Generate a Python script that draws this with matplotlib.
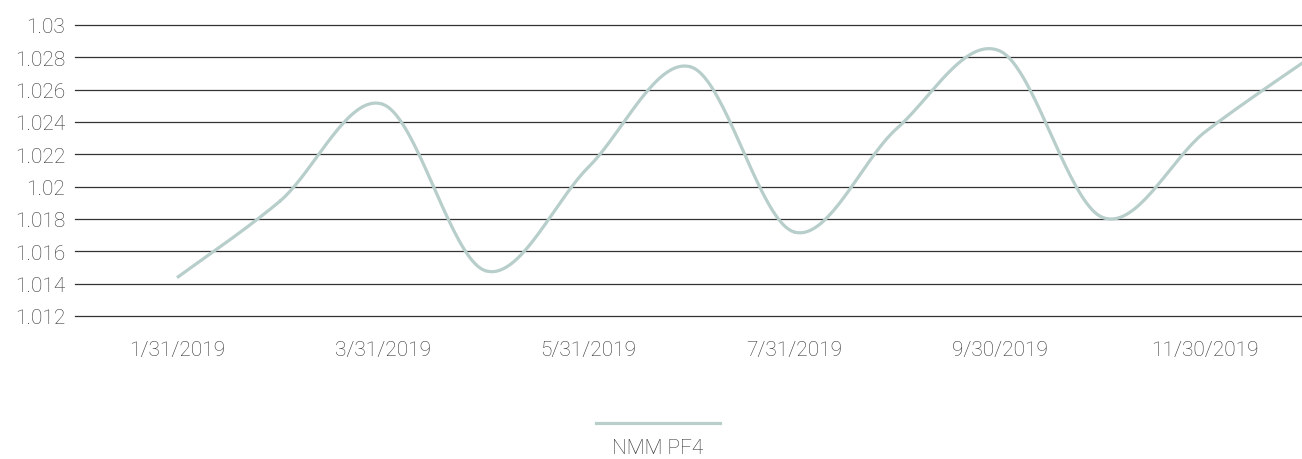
import numpy as np
import matplotlib
matplotlib.use("Agg")
import matplotlib.pyplot as plt
from matplotlib.lines import Line2D

# ---- data ----
months = ["1/31/2019", "2/28/2019", "3/31/2019", "4/30/2019", "5/31/2019", "6/30/2019",
          "7/31/2019", "8/31/2019", "9/30/2019", "10/31/2019", "11/30/2019", "12/31/2019"]
values = [1.01437, 1.0191, 1.0251, 1.0148, 1.0212, 1.0274,
          1.0172, 1.0236, 1.0284, 1.0181, 1.0234, 1.0279]
series_name = "NMM PF4"
yticks = [1.012, 1.014, 1.016, 1.018, 1.02, 1.022, 1.024, 1.026, 1.028, 1.03]
ytick_labels = ["1.012", "1.014", "1.016", "1.018", "1.02", "1.022", "1.024", "1.026", "1.028", "1.03"]

line_color = "#b7ceca"
text_color = "#333333"
grid_color = "#333333"

plt.rcParams['font.family'] = ['Roboto', 'DejaVu Sans']


def catmull_rom(x, y, n=40):
    x = np.asarray(x, float)
    y = np.asarray(y, float)
    px = np.concatenate([[x[0]], x, [x[-1]]])
    py = np.concatenate([[y[0]], y, [y[-1]]])
    t = np.linspace(0, 1, n)
    xs, ys = [], []
    for i in range(1, len(px) - 2):
        for arr, out in ((px, xs), (py, ys)):
            p0, p1, p2, p3 = arr[i - 1], arr[i], arr[i + 1], arr[i + 2]
            out.append(0.5 * ((2 * p1) + (-p0 + p2) * t +
                              (2 * p0 - 5 * p1 + 4 * p2 - p3) * t ** 2 +
                              (-p0 + 3 * p1 - 3 * p2 + p3) * t ** 3))
    return np.concatenate(xs), np.concatenate(ys)


fig = plt.figure(figsize=(13.02, 4.60), dpi=100)
W, H = 1302, 460
ax = fig.add_axes([75 / W, 1 - 317 / H, 1 - 75 / W, (317 - 26) / H])

x = np.arange(len(values))
sx, sy = catmull_rom(x, values)
ax.plot(sx, sy, color=line_color, lw=2.3, solid_capstyle='butt', zorder=3)

ax.set_ylim(1.012, 1.03)
ax.set_yticks(yticks)
ax.set_yticklabels(ytick_labels)
ax.set_xlim(-0.992, 10.94)
ax.set_xticks(x[::2])
ax.set_xticklabels(months[::2])

for v in yticks:
    ax.axhline(v, color=grid_color, lw=0.9, zorder=1, clip_on=False)

for s in ax.spines.values():
    s.set_visible(False)
ax.tick_params(axis='y', length=0, pad=7, labelsize=15, labelcolor=text_color)
ax.tick_params(axis='x', length=0, pad=17, labelsize=15, labelcolor=text_color)
for lab in ax.get_xticklabels() + ax.get_yticklabels():
    lab.set_fontweight('light')

# legend (line above label, centred)
fig.add_artist(Line2D([596 / W, 720 / W], [1 - 424 / H, 1 - 424 / H],
                      color=line_color, lw=2.3, transform=fig.transFigure))
fig.text(658 / W, 1 - 449 / H, series_name, ha='center', va='center',
         fontsize=15, color=text_color, fontweight='light')

fig.savefig("out.png", dpi=100)
